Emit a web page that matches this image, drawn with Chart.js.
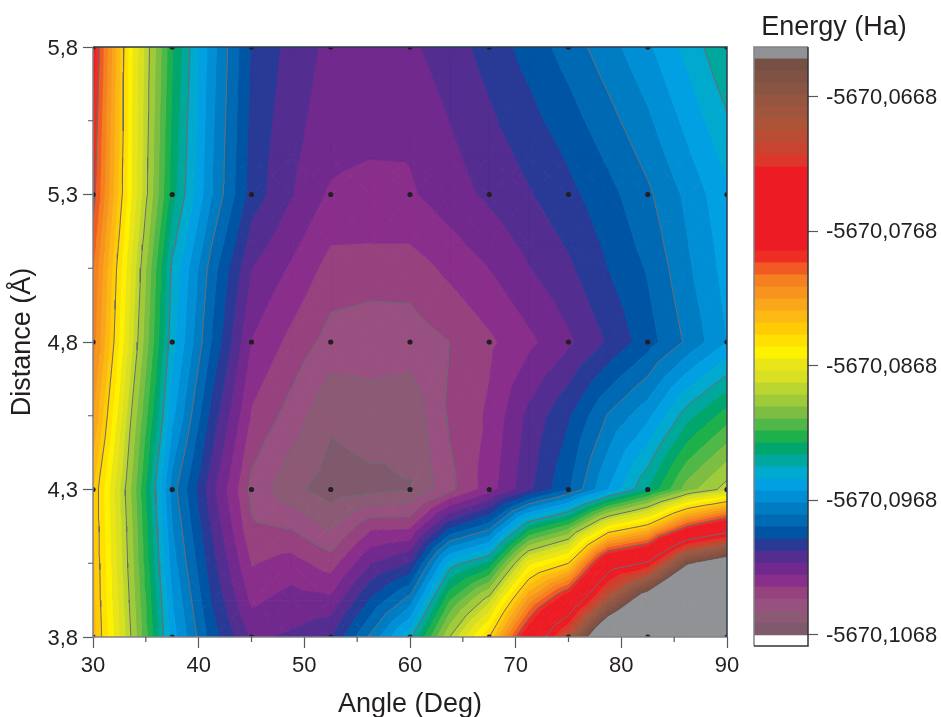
<!DOCTYPE html>
<html>
<head>
<meta charset="utf-8">
<title>Energy contour</title>
<script src="https://cdn.jsdelivr.net/npm/chart.js@4/dist/chart.umd.min.js"></script>
<style>
  html, body { margin: 0; padding: 0; background: #fff; overflow: hidden; }
  #wrap { position: relative; width: 941px; height: 717px; }
  #mapBox { position: absolute; left: 0; top: 0; width: 941px; height: 717px; }
  #barBox { position: absolute; left: 727px; top: 0; width: 214px; height: 717px; }
  canvas { display: block; }
</style>
</head>
<body>
<div id="wrap">
  <div id="mapBox"><canvas id="map" width="941" height="717"></canvas></div>
  <div id="barBox"><canvas id="bar" width="214" height="717"></canvas></div>
</div>
<script>
// grid positions
const angles = [30, 33.75, 37.5, 41.25, 45, 48.75, 52.5, 56.25, 60, 63.75, 67.5, 71.25, 75, 78.75, 82.5, 86.25, 90];
const distances = [3.8, 3.925, 4.05, 4.175, 4.3, 4.55, 4.8, 5.05, 5.13, 5.3, 5.425, 5.8];

// values, in colour steps above -5670,1068 Ha
const d380 = [26.5, 19.7, 12.45, 8.5, 5.8, 6.15, 6.95, 10.2, 13.7, 20, 25, 33.7, 42, 54, 60, 70, 80];
const d393 = [26.3, 19.4, 12, 7.9, 4.75, 5.4, 5.2, 8.1, 10.43, 16.9, 20.6, 28.3, 33.6, 43, 51, 60, 65];
const d405 = [26.2, 19.1, 11.45, 7.35, 3.9, 4.4, 3.5, 5.9, 6.97, 13.45, 15.2, 22.55, 25, 35, 37.4, 47.3, 50.6];
const d418 = [26.1, 18.9, 11, 6.8, 3.15, 2.9, 1.8, 3.7, 3.76, 7.7, 9.5, 15.1, 17.35, 23, 25.5, 31.1, 34.2];
const d430 = [26, 18.6, 10.5, 6.3, 2.7, 1.3, 0.5, 0.7, 0.95, 2.7, 4.5, 6.75, 8.9, 12, 15, 18.5, 20.5];
const d455 = [28, 19.7, 12.25, 7.6, 3.85, 2.6, 1.2, 1.55, 1.3, 3.15, 4.15, 6.25, 7.85, 10.1, 11.7, 14.6, 16.5];
const d480 = [29.5, 21, 13.35, 8.9, 4.95, 3.7, 2.6, 2.5, 2.5, 3, 3.8, 4.75, 5.8, 7.1, 8.55, 10.2, 12];
const d505 = [30, 21.6, 13.75, 9.5, 6, 4.85, 3.6, 3.4, 3.45, 4.25, 5, 5.95, 6.8, 8, 9.1, 10.8, 12.4];
const d513 = [30.5, 21.95, 14.3, 10, 6.5, 5.25, 4, 3.98, 3.98, 4.7, 5.4, 6.25, 7.1, 8.2, 9.35, 10.95, 12.5];
const d530 = [31.5, 22.7, 15.4, 11, 7.5, 6.05, 4.8, 4.35, 4.85, 5.55, 6.2, 6.9, 7.7, 8.65, 9.8, 11.25, 12.8];
const d543 = [31.75, 22.75, 15.6, 11.1, 7.6, 6.2, 5.3, 5.02, 5.05, 5.75, 6.5, 7.25, 8.1, 9.15, 10.3, 11.8, 13.3];
const d580 = [32.5, 22.9, 16.1, 11.4, 7.9, 6.65, 5.7, 5.4, 5.8, 6.5, 7.4, 8.4, 9.45, 10.6, 11.8, 13.3, 15];
const grid = [d380, d393, d405, d418, d430, d455, d480, d505, d513, d530, d543, d580];

// one colour per step, lowest energy first; the last one is everything above the scale
const bandColors = [
  '#7f5a6c', '#8d5a75', '#985080', '#95427f', '#8a2e8c', '#71298d', '#532e90', '#283a96',
  '#0054a4', '#0069b4', '#007cc3', '#008fd5', '#00a0e3', '#00aacf', '#00a79d', '#00a66c',
  '#1eb04a', '#50b848', '#7dbe42', '#9fcb3b', '#bcd631', '#d8e021', '#eae517', '#fff200',
  '#ffe000', '#ffcb05', '#fdb913', '#faa61a', '#f7941e', '#f58020', '#f15a22', '#ee2e24',
  '#ed1c24', '#ed1c24', '#ed1c24', '#ed1c24', '#ed1c24', '#ed1c24', '#ed1c24', '#dc372a',
  '#ca4330', '#bb4c34', '#ad5338', '#a0563e', '#95553f', '#8a5443', '#7f5245', '#775045',
  '#909295'
];
const lineLevels = [1, 2, 3, 10, 14, 20, 25, 31, 37, 43];

// measured points
const dotAngles = [30, 37.5, 45, 52.5, 60, 67.5, 75, 82.5, 90];
const dotDistances = [3.8, 4.3, 4.8, 5.3, 5.8];

// axes
const angleTicks = [30, 40, 50, 60, 70, 80, 90];
const angleMinor = [35, 45, 55, 65, 75, 85];
const distanceTicks = [3.8, 4.3, 4.8, 5.3, 5.8];
const distanceTickLabels = ['3,8', '4,3', '4,8', '5,3', '5,8'];
const distanceMinor = [4.05, 4.55, 5.05, 5.55];
const energyTicks = [-5670.1068, -5670.0968, -5670.0868, -5670.0768, -5670.0668];
const energyBase = -5670.1068;
const energyStep = 0.000892;
const energyMin = -5670.10762;
const energyMax = -5670.0631;

const FONT = '"Liberation Sans", Arial, sans-serif';
const TEXT = '#231f20';

function clipPoly(poly, level, above) {
  const out = [];
  for (let i = 0; i < poly.length; i++) {
    const a = poly[i], b = poly[(i + 1) % poly.length];
    const ina = above ? a.f >= level : a.f < level;
    const inb = above ? b.f >= level : b.f < level;
    if (ina) out.push(a);
    if (ina !== inb) {
      const t = (level - a.f) / (b.f - a.f);
      out.push({ x: a.x + t * (b.x - a.x), y: a.y + t * (b.y - a.y), f: level });
    }
  }
  return out;
}

// each grid cell is split into four triangles around its mean
function buildTriangles() {
  const tris = [];
  for (let r = 0; r < distances.length - 1; r++) {
    for (let c = 0; c < angles.length - 1; c++) {
      const p00 = { x: angles[c], y: distances[r], f: grid[r][c] };
      const p10 = { x: angles[c + 1], y: distances[r], f: grid[r][c + 1] };
      const p11 = { x: angles[c + 1], y: distances[r + 1], f: grid[r + 1][c + 1] };
      const p01 = { x: angles[c], y: distances[r + 1], f: grid[r + 1][c] };
      const mid = {
        x: (p00.x + p10.x) / 2, y: (p00.y + p01.y) / 2,
        f: (p00.f + p10.f + p11.f + p01.f) / 4
      };
      tris.push([p00, p10, mid], [p10, p11, mid], [p11, p01, mid], [p01, p00, mid]);
    }
  }
  return tris;
}

function bandDatasets(tris) {
  const sets = [];
  for (let k = 0; k < bandColors.length; k++) {
    const pts = [];
    const top = k === bandColors.length - 1 ? Infinity : k + 1;
    tris.forEach(t => {
      let poly = k === 0 ? t : clipPoly(t, k, true);
      if (poly.length && top !== Infinity) poly = clipPoly(poly, top, false);
      if (poly.length < 3) return;
      poly.forEach(p => pts.push({ x: p.x, y: p.y }));
      pts.push({ x: poly[0].x, y: poly[0].y }, { x: null, y: null });
    });
    sets.push({
      type: 'scatter', showLine: true, fill: 'shape', data: pts,
      backgroundColor: bandColors[k], borderColor: bandColors[k], borderWidth: 1,
      pointRadius: 0, pointHoverRadius: 0, tension: 0, spanGaps: false
    });
  }
  return sets.reverse(); // first dataset is painted last
}

function lineDatasets(tris) {
  return lineLevels.map(level => {
    const pts = [];
    tris.forEach(t => {
      const hit = [];
      for (let i = 0; i < 3; i++) {
        const a = t[i], b = t[(i + 1) % 3];
        if ((a.f >= level) !== (b.f >= level)) {
          const s = (level - a.f) / (b.f - a.f);
          hit.push({ x: a.x + s * (b.x - a.x), y: a.y + s * (b.y - a.y) });
        }
      }
      if (hit.length === 2) pts.push(hit[0], hit[1], { x: null, y: null });
    });
    return {
      type: 'scatter', showLine: true, fill: false, data: pts,
      borderColor: '#6a6b6e', borderWidth: 1,
      pointRadius: 0, pointHoverRadius: 0, tension: 0, spanGaps: false
    };
  });
}

const dots = [];
dotDistances.forEach(d => dotAngles.forEach(a => dots.push({ x: a, y: d })));

const triangles = buildTriangles();

// axis frame and the short in-between ticks
const framePlugin = {
  id: 'frame',
  afterDraw(chart) {
    const { ctx, chartArea: ar, scales } = chart;
    ctx.save();
    ctx.lineWidth = 1.5;
    ctx.strokeStyle = '#808285';
    ctx.beginPath();
    ctx.moveTo(ar.left, ar.top); ctx.lineTo(ar.left, ar.bottom); ctx.lineTo(ar.right, ar.bottom);
    ctx.stroke();
    ctx.strokeStyle = '#2b3a4a';
    ctx.beginPath();
    ctx.moveTo(ar.left, ar.top); ctx.lineTo(ar.right, ar.top); ctx.lineTo(ar.right, ar.bottom);
    ctx.stroke();
    ctx.strokeStyle = '#58595b';
    ctx.lineWidth = 1.2;
    ctx.beginPath();
    angleMinor.forEach(v => {
      const px = scales.x.getPixelForValue(v);
      ctx.moveTo(px, ar.bottom); ctx.lineTo(px, ar.bottom + 5);
    });
    distanceMinor.forEach(v => {
      const py = scales.y.getPixelForValue(v);
      ctx.moveTo(ar.left, py); ctx.lineTo(ar.left - 5, py);
    });
    ctx.stroke();
    ctx.restore();
  }
};

new Chart(document.getElementById('map'), {
  type: 'scatter',
  data: {
    datasets: [
      {
        data: dots, showLine: false, pointRadius: 2.6, pointHoverRadius: 2.6,
        backgroundColor: '#231f20', borderColor: '#231f20', borderWidth: 0
      },
      ...lineDatasets(triangles),
      ...bandDatasets(triangles)
    ]
  },
  options: {
    responsive: false,
    animation: false,
    events: [],
    layout: { padding: { top: 47, right: 214, left: 0, bottom: 0 } },
    plugins: { legend: { display: false }, tooltip: { enabled: false } },
    scales: {
      x: {
        type: 'linear', min: 30, max: 90,
        afterBuildTicks: s => { s.ticks = angleTicks.map(v => ({ value: v })); },
        afterFit: s => { s.height = 80; },
        grid: { display: true, drawOnChartArea: false, tickLength: 11, tickColor: '#58595b', tickWidth: 1.2 },
        border: { display: false },
        ticks: {
          autoSkip: false, maxRotation: 0, padding: 5, color: TEXT,
          font: { family: FONT, size: 22 }
        },
        title: {
          display: true, text: 'Angle (Deg)', color: TEXT,
          font: { family: FONT, size: 27, lineHeight: 1 }, padding: { top: 0, bottom: -1.5 }
        }
      },
      y: {
        type: 'linear', min: 3.8, max: 5.8,
        afterBuildTicks: s => { s.ticks = distanceTicks.map(v => ({ value: v })); },
        afterFit: s => { s.width = 93; },
        grid: { display: true, drawOnChartArea: false, tickLength: 10, tickColor: '#58595b', tickWidth: 1.2 },
        border: { display: false },
        ticks: {
          autoSkip: false, padding: 5, color: TEXT, labelOffset: 1.5,
          font: { family: FONT, size: 22 },
          callback: (v, i) => distanceTickLabels[i]
        },
        title: {
          display: true, text: 'Distance (Å)', color: TEXT,
          font: { family: FONT, size: 27, lineHeight: 1 }, padding: { top: 9, bottom: 0 }
        }
      }
    }
  },
  plugins: [framePlugin]
});

// colour scale
const barSets = bandColors.map((color, k) => ({
  data: [[energyBase + k * energyStep, k === bandColors.length - 1 ? energyMax : energyBase + (k + 1) * energyStep]],
  backgroundColor: color, borderWidth: 0, grouped: false, yAxisID: 'y',
  barPercentage: 1, categoryPercentage: 1
}));
barSets.push({
  data: [[energyMin, energyBase]], backgroundColor: '#ffffff', borderWidth: 0, grouped: false, yAxisID: 'y',
  barPercentage: 1, categoryPercentage: 1
});

const barFrame = {
  id: 'barFrame',
  afterDraw(chart) {
    const { ctx, chartArea: ar } = chart;
    ctx.save();
    ctx.lineWidth = 1.5;
    ctx.strokeStyle = '#808285';
    ctx.beginPath();
    ctx.moveTo(ar.left, ar.bottom); ctx.lineTo(ar.left, ar.top); ctx.lineTo(ar.right, ar.top);
    ctx.stroke();
    ctx.strokeStyle = '#333333';
    ctx.beginPath();
    ctx.moveTo(ar.right, ar.top); ctx.lineTo(ar.right, ar.bottom); ctx.lineTo(ar.left, ar.bottom);
    ctx.stroke();
    ctx.restore();
  }
};

new Chart(document.getElementById('bar'), {
  type: 'bar',
  data: { labels: ['Energy'], datasets: barSets },
  options: {
    responsive: false,
    animation: false,
    events: [],
    layout: { padding: { left: 0, right: 0, top: 0, bottom: 71 } },
    plugins: {
      legend: { display: false },
      tooltip: { enabled: false },
      title: {
        display: true, text: 'Energy (Ha)', color: TEXT,
        font: { family: FONT, size: 27, weight: 'normal', lineHeight: 1.2 },
        padding: { top: 11, bottom: 3.6 }
      }
    },
    scales: {
      x: { display: false },
      y: {
        position: 'right', min: energyMin, max: energyMax,
        afterBuildTicks: s => { s.ticks = energyTicks.map(v => ({ value: v })); },
        afterFit: s => { s.width = 133; },
        grid: { display: true, drawOnChartArea: false, tickLength: 10, tickColor: '#58595b', tickWidth: 1.2 },
        border: { display: false },
        ticks: {
          autoSkip: false, padding: 8, color: TEXT, labelOffset: 1,
          font: { family: FONT, size: 22 },
          callback: v => v.toFixed(4).replace('.', ',')
        }
      },
      // empty axis: pushes the bar right while the title stays centred on the canvas
      spacer: {
        type: 'linear', position: 'left',
        afterFit: s => { s.width = 27; },
        grid: { display: false }, border: { display: false }, ticks: { display: false }
      }
    }
  },
  plugins: [barFrame]
});
</script>
</body>
</html>
